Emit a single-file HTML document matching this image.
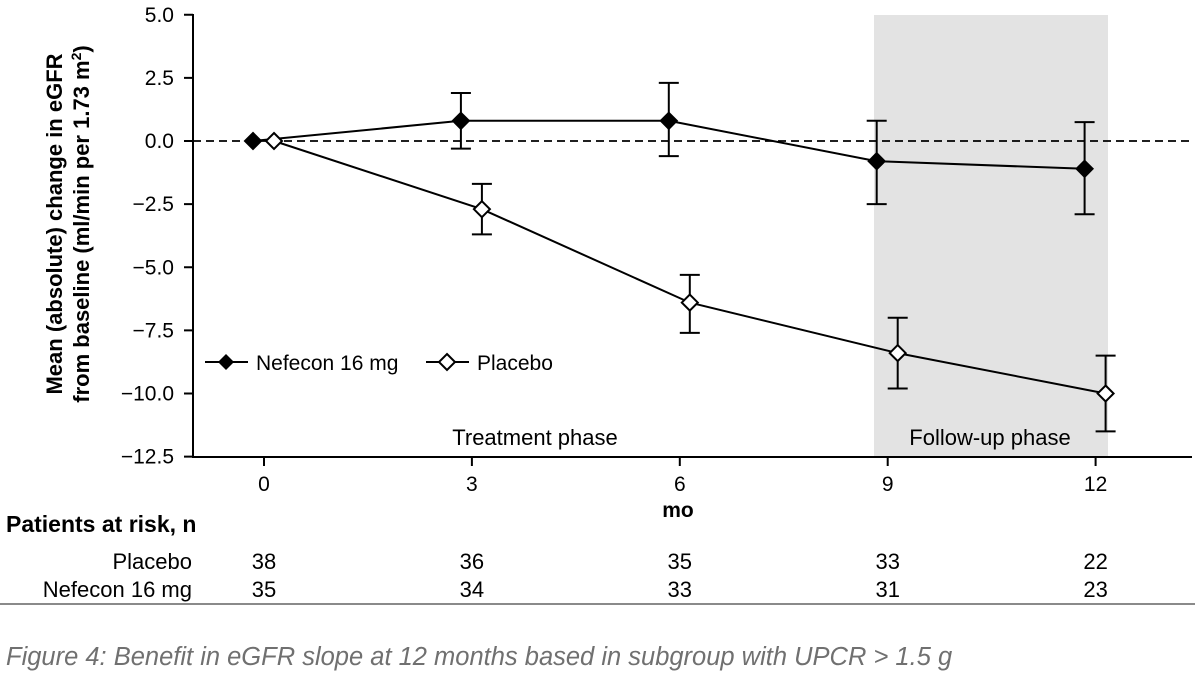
<!DOCTYPE html>
<html><head><meta charset="utf-8"><style>
body{margin:0;background:#fff;width:1200px;height:683px;overflow:hidden;font-family:"Liberation Sans",Arial,sans-serif}
svg{display:block}
</style></head><body>
<svg width="1200" height="683" font-family="Liberation Sans, Arial, sans-serif">
<script>
const months=[0,3,6,9,12];
const nefMean=[0,0.8,0.8,-0.8,-1.1];
const nefHi=[0,1.9,2.3,0.8,0.75];
const nefLo=[0,-0.3,-0.6,-2.5,-2.9];
const plaMean=[0,-2.7,-6.4,-8.4,-10.0];
const plaHi=[0,-1.7,-5.3,-7.0,-8.5];
const plaLo=[0,-3.7,-7.6,-9.8,-11.5];
const yTicks=[5.0,2.5,0.0,-2.5,-5.0,-7.5,-10.0,-12.5];
const xTicks=[0,3,6,9,12];
const riskPlacebo=[38,36,35,33,22];
const riskNefecon=[35,34,33,31,23];
</script>
<g id="root"></g>
<text x="0" y="0" transform="translate(62,224) rotate(-90)" text-anchor="middle" font-size="22" font-weight="bold">Mean (absolute) change in eGFR</text>
<text x="0" y="0" transform="translate(89,224) rotate(-90)" text-anchor="middle" font-size="22" font-weight="bold">from baseline (ml/min per 1.73 m<tspan baseline-shift="super" font-size="14">2</tspan>)</text>
<text x="678" y="517" text-anchor="middle" font-size="21" font-weight="bold">mo</text>
<text x="535" y="445" text-anchor="middle" font-size="22">Treatment phase</text>
<text x="990" y="445" text-anchor="middle" font-size="22">Follow-up phase</text>
<g>
<line x1="205" y1="362" x2="248" y2="362" stroke="#000" stroke-width="2"/>
<path d="M226 354 L234 362 L226 370 L218 362Z" fill="#000"/>
<text x="256" y="370" font-size="21">Nefecon 16 mg</text>
<line x1="426" y1="362" x2="469" y2="362" stroke="#000" stroke-width="2"/>
<path d="M447 354 L455 362 L447 370 L439 362Z" fill="#fff" stroke="#000" stroke-width="2"/>
<text x="477" y="370" font-size="21">Placebo</text>
</g>
<text x="6" y="532" font-size="23" font-weight="bold">Patients at risk, n</text>
<text x="192" y="569" text-anchor="end" font-size="22">Placebo</text>
<text x="192" y="597" text-anchor="end" font-size="22">Nefecon 16 mg</text>
<line x1="0" y1="604" x2="1195" y2="604" stroke="#444" stroke-width="1.2"/>
<text x="6" y="665" font-size="25.5" font-style="italic" fill="#707070">Figure 4: Benefit in eGFR slope at 12 months based in subgroup with UPCR &gt; 1.5 g</text>
<script>
const NS='http://www.w3.org/2000/svg';
const root=document.getElementById('root');
const X0=264,XS=69.3,Y0=141,YS=25.25;
const xs=m=>X0+m*XS, ys=v=>Y0-v*YS;
function mk(t,a,p){const e=document.createElementNS(NS,t);for(const k in a)e.setAttribute(k,a[k]);(p||root).appendChild(e);return e;}
const shade=mk('rect',{x:874,y:15,width:234,height:442,fill:'#e3e3e3'});


const zl=mk('line',{x1:193,y1:ys(0),x2:1192,y2:ys(0),stroke:'#000','stroke-width':1.8,'stroke-dasharray':'8,5'});


const ya=mk('line',{x1:193,y1:14,x2:193,y2:457,stroke:'#000','stroke-width':2});


const xa=mk('line',{x1:192,y1:457,x2:1192,y2:457,stroke:'#000','stroke-width':2});


yTicks.forEach(v=>{
 mk('line',{x1:184,y1:ys(v),x2:193,y2:ys(v),stroke:'#000','stroke-width':2});
 const t=mk('text',{x:174,y:ys(v)+7,'text-anchor':'end','font-size':21});
 t.textContent=(v<0?'\u2212':'')+Math.abs(v).toFixed(1);
 
 
});
xTicks.forEach((m,i)=>{
 mk('line',{x1:xs(m),y1:457,x2:xs(m),y2:466,stroke:'#000','stroke-width':2});
 const t=mk('text',{x:xs(m),y:491,'text-anchor':'middle','font-size':21});
 t.textContent=m;
 
 
 const a=mk('text',{x:xs(m),y:569,'text-anchor':'middle','font-size':22});
 a.textContent=riskPlacebo[i];
 
 
 const b=mk('text',{x:xs(m),y:597,'text-anchor':'middle','font-size':22});
 b.textContent=riskNefecon[i];
 
 
});
function series(mean,hi,lo,off,fill,name){
 const g=mk('g',{});
 
 
 const pts=months.map((m,i)=>(xs(m)+off)+','+ys(mean[i])).join(' ');
 mk('polyline',{points:pts,fill:'none',stroke:'#000','stroke-width':2},g);
 months.forEach((m,i)=>{
  const x=xs(m)+off;
  if(hi[i]!==lo[i]){
   mk('line',{x1:x,y1:ys(hi[i]),x2:x,y2:ys(lo[i]),stroke:'#000','stroke-width':2},g);
   mk('line',{x1:x-10,y1:ys(hi[i]),x2:x+10,y2:ys(hi[i]),stroke:'#000','stroke-width':2},g);
   mk('line',{x1:x-10,y1:ys(lo[i]),x2:x+10,y2:ys(lo[i]),stroke:'#000','stroke-width':2},g);
  }
  const y=ys(mean[i]);
  const p=mk('path',{d:`M${x} ${y-8} L${x+8} ${y} L${x} ${y+8} L${x-8} ${y}Z`,fill:fill,stroke:'#000','stroke-width':2},g);
  
  
 });
}
series(nefMean,nefHi,nefLo,-11,'#000','nefecon');
series(plaMean,plaHi,plaLo,10,'#fff','placebo');
</script>
</svg>
</body></html>
